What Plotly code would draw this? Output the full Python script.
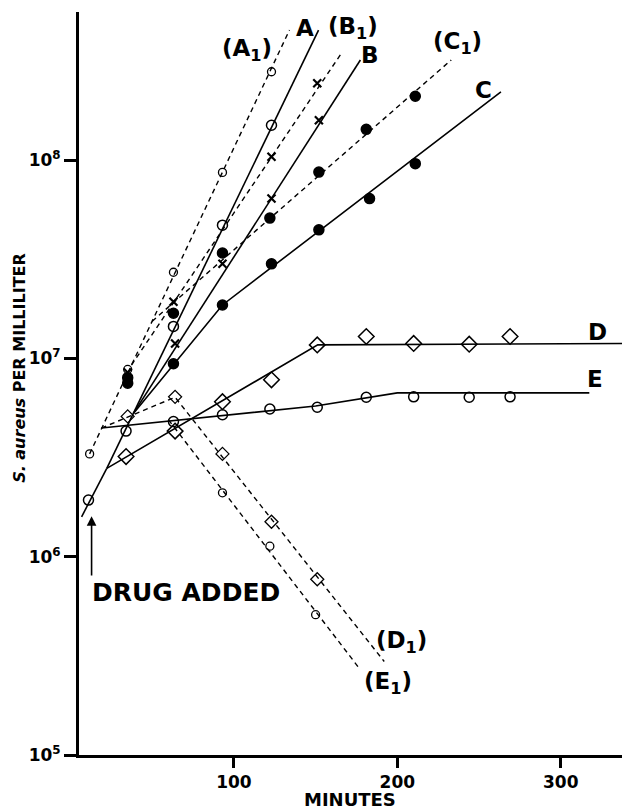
import math
import plotly.graph_objects as go

# ---- measured points (minutes, bacteria per ml) ----
start_solid_t = [11]
start_solid_v = [1.93e6]
start_dash_t = [11.7]
start_dash_v = [3.3e6]

A_t = [63, 93, 123]
A_v = [1.45e7, 4.7e7, 1.5e8]
A1_t = [35, 63, 93, 123]
A1_v = [8.8e6, 2.72e7, 8.67e7, 2.79e8]

B_t = [64, 93, 123, 152]
B_v = [1.19e7, 3.0e7, 6.4e7, 1.59e8]
B1_t = [35, 63, 123, 151]
B1_v = [8.5e6, 1.93e7, 1.04e8, 2.44e8]

C_t = [63, 93, 123, 152, 183, 211]
C_v = [9.4e6, 1.86e7, 3.0e7, 4.45e7, 6.4e7, 9.6e7]
C1_t = [35, 35, 63, 93, 122, 152, 181, 211]
C1_v = [7.5e6, 8.0e6, 1.69e7, 3.4e7, 5.1e7, 8.7e7, 1.43e8, 2.1e8]

D_t = [34, 64, 93, 123, 151, 181, 210, 244, 269]
D_v = [3.2e6, 4.3e6, 6.05e6, 7.8e6, 1.17e7, 1.29e7, 1.19e7, 1.18e7, 1.29e7]
D1_t = [35, 64, 93, 123, 151]
D1_v = [5.1e6, 6.4e6, 3.3e6, 1.5e6, 7.7e5]

E_t = [34, 63, 93, 122, 151, 181, 210, 244, 269]
E_v = [4.3e6, 4.8e6, 5.2e6, 5.56e6, 5.67e6, 6.37e6, 6.4e6, 6.37e6, 6.4e6]
E1_t = [93, 122, 150]
E1_v = [2.1e6, 1.13e6, 5.1e5]

# ---- fitted lines (vertices, minutes / per ml) ----
trunk_t = [6.8, 22.2]
trunk_v = [1.59e6, 2.79e6]
A_fit_t = [22.2, 151.8]
A_fit_v = [2.79e6, 4.53e8]
B_fit_t = [38.5, 177.4]
B_fit_v = [5.28e6, 3.2e8]
C_fit_t = [38.5, 93, 263.4]
C_fit_v = [5.28e6, 1.86e7, 2.21e8]
D_fit_t = [22.2, 151.3, 340]
D_fit_v = [2.79e6, 1.17e7, 1.19e7]
E_fit_t = [19, 150, 200, 317.5]
E_fit_v = [4.46e6, 5.75e6, 6.7e6, 6.7e6]

A1_fit_t = [11.7, 134]
A1_fit_v = [3.3e6, 4.53e8]
B1_fit_t = [37.3, 166.4]
B1_fit_v = [9.25e6, 3.52e8]
C1_fit_t = [50, 233]
C1_fit_v = [1.54e7, 3.2e8]
D1_fit_t = [19, 64, 192]
D1_fit_v = [4.46e6, 6.37e6, 2.96e5]
E1_fit_t = [60, 177.4]
E1_fit_v = [4.9e6, 2.69e5]

x_ticks = [100, 200, 300]
y_ticks = [1e5, 1e6, 1e7, 1e8]
y_tick_text = ["10<sup>5</sup>", "10<sup>6</sup>", "10<sup>7</sup>", "10<sup>8</sup>"]

FONT = "DejaVu Sans, Liberation Sans, Arial, sans-serif"

fig = go.Figure()

def line(t, v, dash=False):
    fig.add_trace(go.Scatter(
        x=t, y=v, mode="lines", showlegend=False, hoverinfo="skip",
        line=dict(color="black", width=1.4 if dash else 1.6,
                  dash="5px,4px" if dash else "solid")))

def pts(t, v, symbol, size, lw=1.5):
    fig.add_trace(go.Scatter(
        x=t, y=v, mode="markers", showlegend=False,
        marker=dict(symbol=symbol, size=size, color="black",
                    line=dict(color="black", width=lw))))

# solid lines
for t, v in [(trunk_t, trunk_v), (A_fit_t, A_fit_v), (B_fit_t, B_fit_v),
             (C_fit_t, C_fit_v), (D_fit_t, D_fit_v), (E_fit_t, E_fit_v)]:
    line(t, v)
# dashed lines
for t, v in [(A1_fit_t, A1_fit_v), (B1_fit_t, B1_fit_v), (C1_fit_t, C1_fit_v),
             (D1_fit_t, D1_fit_v), (E1_fit_t, E1_fit_v)]:
    line(t, v, dash=True)

# markers
pts(start_solid_t, start_solid_v, "circle-open", 10)
pts(start_dash_t, start_dash_v, "circle-open", 8, 1.3)
pts(A_t, A_v, "circle-open", 10)
pts(A1_t, A1_v, "circle-open", 8, 1.3)
pts(B_t, B_v, "x-thin-open", 8, 2.2)
pts(B1_t, B1_v, "x-thin-open", 8, 2.2)
pts(C_t, C_v, "circle", 10)
pts(C1_t, C1_v, "circle", 10)
pts(D_t, D_v, "diamond-open", 12)
pts(D1_t, D1_v, "diamond-open", 10, 1.3)
pts(E_t, E_v, "circle-open", 10)
pts(E1_t, E1_v, "circle-open", 8, 1.3)

ann = []
def label(text, x, y, size=23, xanchor="center"):
    ann.append(dict(x=x, y=y, xref="x", yref="y", text="<b>" + text + "</b>",
                    showarrow=False, xanchor=xanchor, yanchor="middle",
                    font=dict(family=FONT, size=size, color="black")))

label("A", 143.4, math.log10(4.64e8))
label("(B<sub>1</sub>)", 172.8, math.log10(4.64e8))
label("B", 183.2, math.log10(3.39e8))
label("(A<sub>1</sub>)", 108, math.log10(3.59e8))
label("(C<sub>1</sub>)", 237, math.log10(3.89e8))
label("C", 253, math.log10(2.25e8))
label("D", 322.6, math.log10(1.36e7))
label("E", 321, math.log10(7.9e6))
label("(D<sub>1</sub>)", 202.8, math.log10(3.7e5))
label("(E<sub>1</sub>)", 194.2, math.log10(2.3e5))
label("DRUG ADDED", 11.9, math.log10(6.6e5), size=25, xanchor="left")

# drug added arrow
ann.append(dict(x=12.9, y=math.log10(1.6e6), ax=12.9, ay=math.log10(7.9e5),
                xref="x", yref="y", axref="x", ayref="y", text="",
                showarrow=True, arrowhead=2, arrowsize=1.2, arrowwidth=1.6,
                arrowcolor="black"))

# axis titles
ann.append(dict(x=-0.1087, y=0.521, xref="paper", yref="paper",
                text="<b><i>S. aureus</i> PER MILLILITER</b>", textangle=-90,
                showarrow=False, xanchor="center", yanchor="middle",
                font=dict(family=FONT, size=16, color="black")))
ann.append(dict(x=0.499, y=-0.0595, xref="paper", yref="paper",
                text="<b>MINUTES</b>", showarrow=False,
                xanchor="center", yanchor="middle",
                font=dict(family=FONT, size=18, color="black")))

fig.update_layout(
    width=622, height=810,
    margin=dict(l=79, r=0, t=12, b=55),
    paper_bgcolor="white", plot_bgcolor="white",
    annotations=ann,
    xaxis=dict(range=[5.2, 337.5], showgrid=False, zeroline=False,
               showline=True, linecolor="black", linewidth=3,
               tickmode="array", tickvals=x_ticks,
               ticktext=["<b>%d</b>" % v for v in x_ticks],
               ticks="outside", ticklen=10, tickwidth=3, tickcolor="black",
               tickfont=dict(family=FONT, size=17, color="black")),
    yaxis=dict(type="log", range=[5, 8.747], showgrid=False, zeroline=False,
               showline=True, linecolor="black", linewidth=3,
               tickmode="array", tickvals=y_ticks,
               ticktext=["<b>" + s + "</b>" for s in y_tick_text],
               ticks="outside", ticklen=12, tickwidth=3, tickcolor="black",
               tickfont=dict(family=FONT, size=17, color="black")),
)

fig.write_html("out.html")
